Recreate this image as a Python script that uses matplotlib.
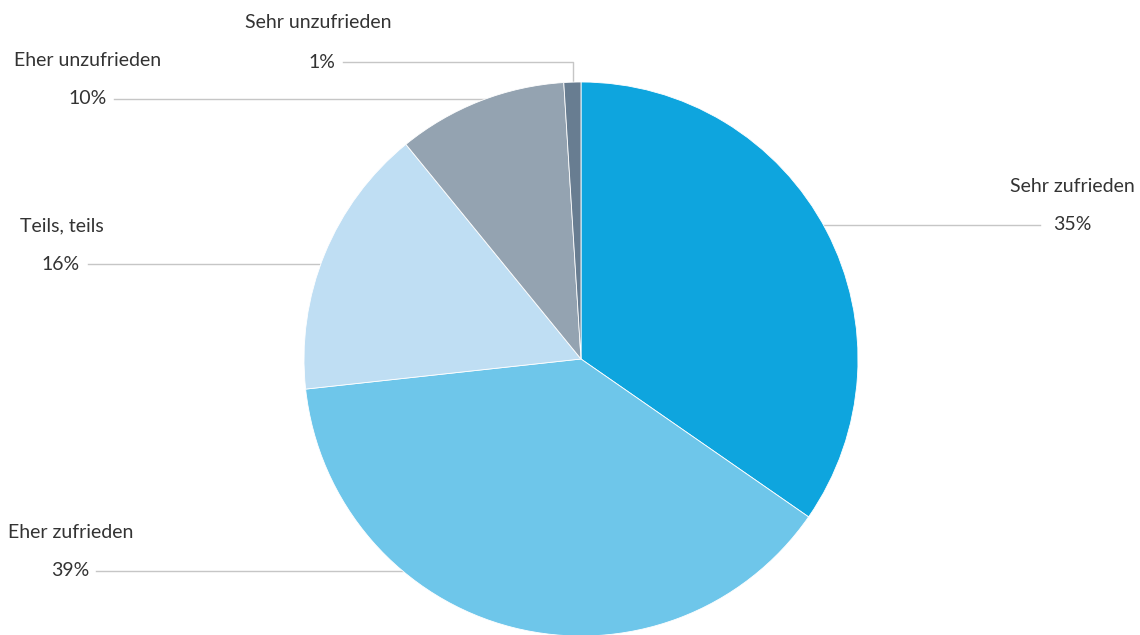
import matplotlib.pyplot as plt
import numpy as np

labels = ['Sehr zufrieden', 'Eher zufrieden', 'Teils, teils', 'Eher unzufrieden', 'Sehr unzufrieden']
shares = [35, 39, 16, 10, 1]
colors = ['#0ea5de', '#6ec6ea', '#bfdef3', '#94a3b1', '#687d91']

W, H = 1140, 635
cx, cy, r = 581, 635 - 359, 277

plt.rcParams['font.family'] = ['Lato', 'DejaVu Sans']
fig = plt.figure(figsize=(W / 100, H / 100), dpi=100)
ax = fig.add_axes([0, 0, 1, 1])

ax.pie(shares, colors=colors, startangle=90, counterclock=False,
       center=(cx, cy), radius=r, frame=True,
       wedgeprops=dict(edgecolor='white', linewidth=0.6, zorder=2))
ax.set_xlim(0, W)
ax.set_ylim(0, H)
ax.set_aspect('equal')
ax.axis('off')

txt = '#333333'
line = '#c6c6c6'
fs = 14

def py(y):
    return H - y

# name position, percent position, where the leader line starts and its height
layout = [
    ((1135, 186), 'right', (1092, 225), 1040, 225),
    ((8, 532), 'left', (89, 571), 96, 571),
    ((20, 226), 'left', (80, 264), 88, 264),
    ((14, 60), 'left', (107, 99), 114, 99),
    ((245, 23), 'left', (335, 62), 343, 62),
]

for name, val, (nxy, nha, pxy, lx, ly) in zip(labels, shares, layout):
    ax.text(nxy[0], py(nxy[1]), name, ha=nha, va='center', fontsize=fs, color=txt)
    ax.text(pxy[0], py(pxy[1]), f'{val}%', ha='right', va='center', fontsize=fs, color=txt)
    if name == 'Sehr unzufrieden':
        ax.plot([lx, 573, 573], [py(ly), py(ly), py(100)], color=line, lw=1, zorder=1)
    else:
        ax.plot([lx, cx], [py(ly), py(ly)], color=line, lw=1, zorder=1)

fig.savefig('out.png', dpi=100, facecolor='white')
